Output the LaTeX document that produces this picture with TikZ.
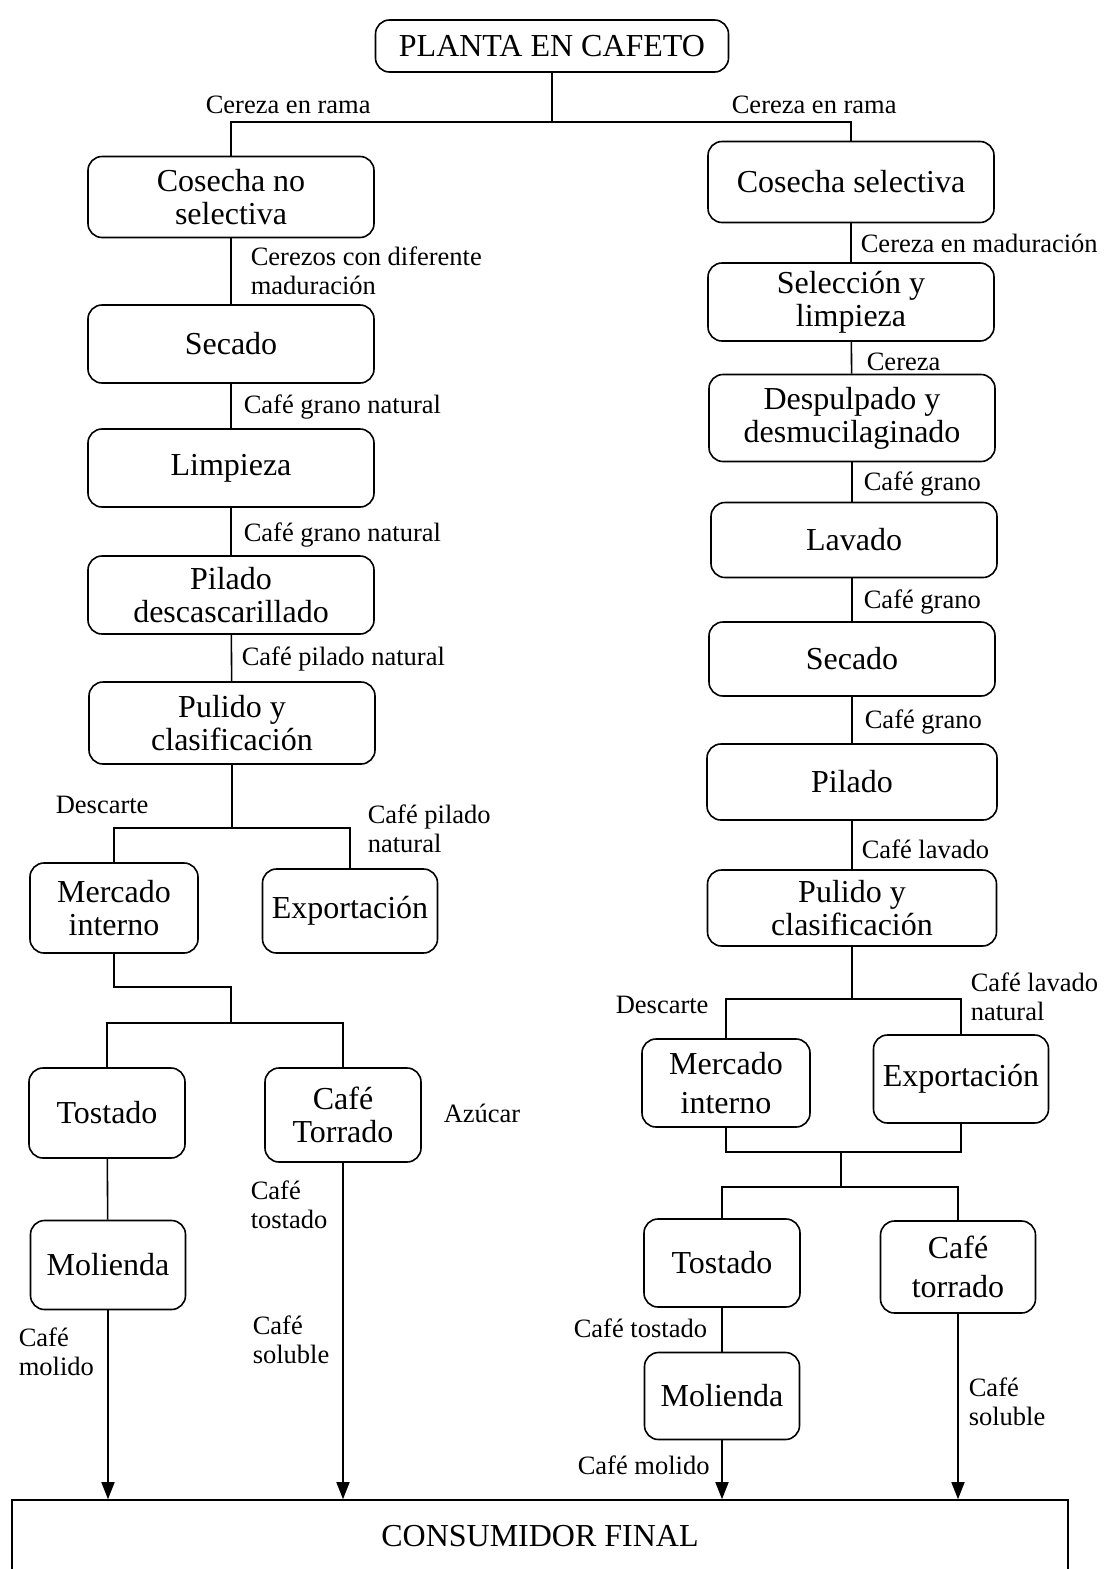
\documentclass[tikz,border=0pt]{standalone}
\usepackage{fontspec}
\setmainfont{Liberation Serif}
\usetikzlibrary{arrows.meta}
\newcommand{\fcaja}{\fontsize{16}{16.5}\selectfont}
\newcommand{\fetiq}{\fontsize{13.25}{14.25}\selectfont}

\begin{document}
\begin{tikzpicture}[
						x=0.5pt, y=-0.5pt, line width=0.8pt,
						paso/.style = {draw, rounded corners=7pt, align=center, font=\fcaja, inner sep=2pt, minimum width=143pt, minimum height=39pt},
						chico/.style = {paso, minimum width=78pt, minimum height=45pt},
						txt/.style = {anchor=west, align=left, font=\fetiq, inner sep=0pt},
						flecha/.style = {-{Triangle[length=8.5pt,width=6.5pt]}}
					]
					\useasboundingbox (0,0) rectangle (1110,1569);
					\node[paso,minimum width=176.5pt,minimum height=26pt] (planta) at (552,46) {PLANTA EN CAFETO};
					% rama izquierda
					\node[paso,minimum height=40.5pt] (cns) at (231,197) {Cosecha no\\selectiva};
					\node[paso] (sec1) at (231,344) {Secado};
					\node[paso] (lim1) at (231,468) {Limpieza};
					\node[paso] (pil1) at (231,595) {Pilado\\descascarillado};
					\node[paso,minimum height=41pt] (pul1) at (232,723) {Pulido y\\clasificación};
					\node[chico,minimum width=84pt] (mi1) at (114,908) {Mercado\\interno};
					\node[chico,minimum width=87.5pt,minimum height=42pt] (exp1) at (350,911) {Exportación};
					\node[chico] (tos1) at (107,1113) {Tostado};
					\node[chico,minimum height=47pt] (cto1) at (343,1115) {Café\\Torrado};
					\node[chico,minimum width=77.5pt,minimum height=44.5pt] (mol1) at (108,1265) {Molienda};
					% rama derecha
					\node[paso,minimum height=40.5pt] (cs) at (851,182) {Cosecha selectiva};
					\node[paso] (sel) at (851,302) {Selección y\\limpieza};
					\node[paso,minimum height=43.5pt] (des) at (852,418) {Despulpado y\\desmucilaginado};
					\node[paso,minimum height=37.5pt] (lav) at (854,540) {Lavado};
					\node[paso,minimum height=37pt] (sec2) at (852,659) {Secado};
					\node[paso,minimum width=145pt,minimum height=38pt] (pil2) at (852,782) {Pilado};
					\node[paso,minimum width=144.5pt,minimum height=38pt] (pul2) at (852,908) {Pulido y\\clasificación};
					\node[chico,minimum width=84pt,minimum height=44pt] (mi2) at (726,1083) {Mercado\\[3pt]interno};
					\node[chico,minimum width=87.5pt,minimum height=44pt] (exp2) at (961,1079) {Exportación};
					\node[chico,minimum height=44pt] (tos2) at (722,1263) {Tostado};
					\node[chico,minimum width=77.5pt,minimum height=46pt] (cto2) at (958,1267) {Café\\[3pt]torrado};
					\node[chico,minimum width=77.5pt,minimum height=43.5pt] (mol2) at (722,1396) {Molienda};
					\node[draw,rounded corners=0pt,minimum width=528pt,minimum height=36pt,font=\fcaja] (cons) at (540,1536) {CONSUMIDOR FINAL};
					% uniones
					\coordinate (j0) at (552,122);
					\coordinate (jl1) at (232,828);
					\coordinate (jl2) at (231,987);
					\coordinate (jl3) at (231,1023);
					\coordinate (jr1) at (852,999);
					\coordinate (jr2) at (841,1152);
					\coordinate (jr3) at (841,1187);
					\draw (planta) -- (j0);
					\draw (cns.north) |- (j0) -| (cs.north);
					\draw (cns) -- (sec1);
					\draw (sec1) -- (lim1);
					\draw (lim1) -- (pil1);
					\draw (pil1) -- (pul1);
					\draw (pul1) -- (jl1);
					\draw (mi1.north) |- (jl1) -| (exp1.north);
					\draw (mi1.south) |- (jl2) -- (jl3);
					\draw (tos1.north) |- (jl3) -| (cto1.north);
					\draw (tos1) -- (mol1);
					\draw (cs) -- (sel);
					\draw (sel) -- (des);
					\draw (des) -- (des |- lav.north);
					\draw (des |- lav.south) -- (sec2);
					\draw (sec2) -- (pil2);
					\draw (pil2) -- (pul2);
					\draw (pul2) -- (jr1);
					\draw (mi2.north) |- (jr1) -| (exp2.north);
					\draw (mi2.south) |- (jr2) -| (exp2.south);
					\draw (jr2) -- (jr3);
					\draw (tos2.north) |- (jr3) -| (cto2.north);
					\draw (tos2) -- (mol2);
					\draw[flecha] (mol1) -- (mol1 |- cons.north);
					\draw[flecha] (cto1) -- (cto1 |- cons.north);
					\draw[flecha] (mol2) -- (mol2 |- cons.north);
					\draw[flecha] (cto2) -- (cto2 |- cons.north);
					% etiquetas
					\node[txt] (e1) at (205,105) {Cereza en rama};
					\node[txt] (e2) at (731,105) {Cereza en rama};
					\node[txt] (e3) at (250,271) {Cerezos con diferente\\maduración};
					\node[txt] (e4) at (243,407) {Café grano natural};
					\node[txt] (e5) at (243,535) {Café grano natural};
					\node[txt] (e6) at (241,659) {Café pilado natural};
					\node[txt] (e7) at (55,805) {Descarte};
					\node[txt] (e8) at (367,829) {Café pilado\\natural};
					\node[txt] (e9) at (443,1113) {Azúcar};
					\node[txt] (e10) at (250,1205) {Café\\tostado};
					\node[txt] (e11) at (252,1340) {Café\\soluble};
					\node[txt] (e12) at (18,1352) {Café\\molido};
					\node[txt] (e13) at (860,243) {Cereza en maduración};
					\node[txt] (e14) at (866,362) {Cereza};
					\node[txt] (e15) at (863,484) {Café grano};
					\node[txt] (e16) at (863,602) {Café grano};
					\node[txt] (e17) at (864,722) {Café grano};
					\node[txt] (e18) at (861,849) {Café lavado};
					\node[txt] (e19) at (615,1005) {Descarte};
					\node[txt] (e20) at (970,997) {Café lavado\\natural};
					\node[txt] (e21) at (573,1328) {Café tostado};
					\node[txt] (e22) at (577,1465) {Café molido};
					\node[txt] (e23) at (968,1402) {Café\\soluble};
				\end{tikzpicture}
\end{document}
